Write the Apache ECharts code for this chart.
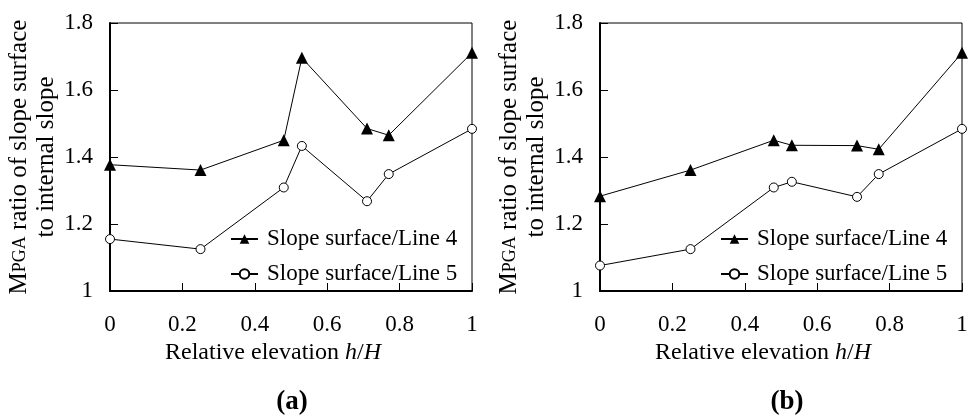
<!DOCTYPE html>
<html><head><meta charset="utf-8">
<script src="https://cdn.jsdelivr.net/npm/echarts@6/dist/echarts.min.js"></script>
<style>html,body{margin:0;padding:0;background:#fff}#c{width:973px;height:419px}</style>
</head><body><div id="c"></div>
<script>
const xValues = [0, 0.25, 0.48, 0.53, 0.71, 0.77, 1];
const aLine4 = [1.377, 1.361, 1.450, 1.696, 1.485, 1.465, 1.711];
const aLine5 = [1.155, 1.125, 1.309, 1.433, 1.268, 1.349, 1.484];
const bLine4 = [1.283, 1.361, 1.450, 1.435, 1.434, 1.423, 1.711];
const bLine5 = [1.076, 1.125, 1.309, 1.326, 1.281, 1.349, 1.484];
const xTickLabels = ['0', '0.2', '0.4', '0.6', '0.8', '1'];
const yTickLabels = ['1', '1.2', '1.4', '1.6', '1.8'];
const seriesNames = ['Slope surface/Line 4', 'Slope surface/Line 5'];
const panelLabels = ['(a)', '(b)'];

const FONT = '"Liberation Serif", "Times New Roman", serif';
const pair = (xs, ys) => xs.map((x, i) => [x, ys[i]]);

function xAxis(gi) {
  return {
    type: 'value', gridIndex: gi, min: 0, max: 1, interval: 0.2,
    axisLine: {show: true, onZero: false, lineStyle: {color: '#000', width: 2}},
    axisTick: {show: true, inside: true, length: 8, lineStyle: {color: '#000', width: 1}},
    splitLine: {show: false},
    axisLabel: {color: '#000', fontFamily: FONT, fontSize: 23, margin: 22,
      formatter: v => xTickLabels[Math.round(v / 0.2)]},
    name: 'Relative elevation {i|h}/{i|H}', nameLocation: 'middle', nameGap: 47,
    nameTextStyle: {color: '#000', fontFamily: FONT, fontSize: 24, padding: [0, 36, 0, 0],
      rich: {i: {fontStyle: 'italic', fontFamily: FONT, fontSize: 24, color: '#000'}}}
  };
}
function yAxis(gi) {
  return {
    type: 'value', gridIndex: gi, min: 1, max: 1.8, interval: 0.2,
    axisLine: {show: true, lineStyle: {color: '#000', width: 2}},
    axisTick: {show: true, inside: true, length: 8, lineStyle: {color: '#000', width: 1}},
    splitLine: {show: false},
    axisLabel: {color: '#000', fontFamily: FONT, fontSize: 23, margin: 17,
      formatter: v => yTickLabels[Math.round((v - 1) / 0.2)]},
    name: '{n|M}{s|PGA}{n| ratio of slope surface}\n{n|to internal slope}',
    nameLocation: 'middle', nameRotate: 90, nameGap: 47,
    nameTextStyle: {color: '#000', fontFamily: FONT, fontSize: 25, lineHeight: 27,
      rich: {
        n: {fontFamily: FONT, fontSize: 25, color: '#000', lineHeight: 27},
        s: {fontFamily: FONT, fontSize: 18, color: '#000', lineHeight: 27}
      }}
  };
}
function series(name, gi, data, tri) {
  return {
    name, type: 'line', xAxisIndex: gi, yAxisIndex: gi, data,
    symbol: tri ? 'triangle' : 'circle', symbolSize: tri ? 12 : 9,
    lineStyle: {color: '#000', width: 1},
    itemStyle: tri ? {color: '#000'} : {color: '#fff', borderColor: '#000', borderWidth: 1},
    emphasis: {disabled: true}, animation: false
  };
}
function legend(left, names) {
  return {
    orient: 'vertical', left, top: 221, itemWidth: 27, itemHeight: 12, itemGap: 9,
    data: names,
    textStyle: {color: '#000', fontFamily: FONT, fontSize: 23, lineHeight: 26, padding: [0, 0, 0, 4]},
    formatter: n => n.replace(/^.*\|/, ''),
    selectedMode: false
  };
}
const chart = echarts.init(document.getElementById('c'), null, {renderer: 'canvas'});
chart.setOption({
  backgroundColor: '#fff',
  animation: false,
  grid: [
    {left: 110, right: 501, top: 23, bottom: 128, show: true, borderColor: '#000', borderWidth: 1},
    {left: 600, right: 11, top: 23, bottom: 128, show: true, borderColor: '#000', borderWidth: 1}
  ],
  xAxis: [xAxis(0), xAxis(1)],
  yAxis: [yAxis(0), yAxis(1)],
  legend: [
    legend(225, seriesNames.map(n => 'a|' + n)),
    legend(715, seriesNames.map(n => 'b|' + n))
  ],
  title: [
    {text: panelLabels[0], left: 287, top: 384, textAlign: 'center',
      textStyle: {fontFamily: FONT, fontSize: 27, fontWeight: 'bold', color: '#000'}},
    {text: panelLabels[1], left: 782, top: 384, textAlign: 'center',
      textStyle: {fontFamily: FONT, fontSize: 27, fontWeight: 'bold', color: '#000'}}
  ],
  series: [
    series('a|' + seriesNames[0], 0, pair(xValues, aLine4), true),
    series('a|' + seriesNames[1], 0, pair(xValues, aLine5), false),
    series('b|' + seriesNames[0], 1, pair(xValues, bLine4), true),
    series('b|' + seriesNames[1], 1, pair(xValues, bLine5), false)
  ]
});
</script></body></html>
